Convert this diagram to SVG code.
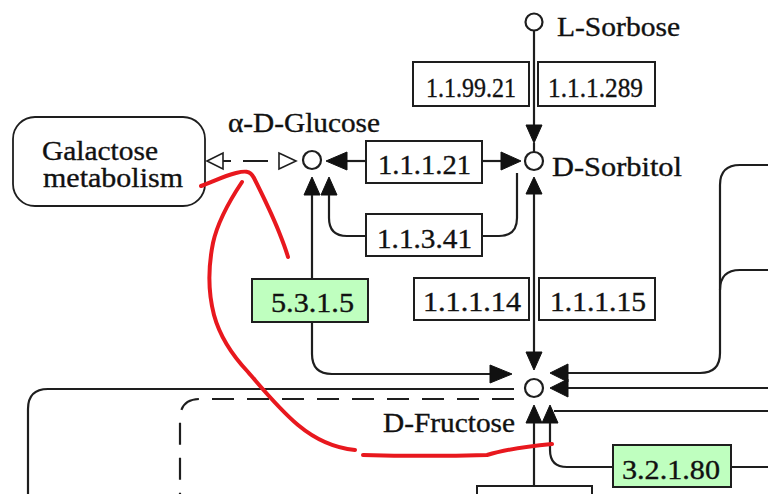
<svg xmlns="http://www.w3.org/2000/svg" width="768" height="494" viewBox="0 0 768 494">
<style>
  .bg{fill:#ffffff}
  .ln{fill:none;stroke:#1e1e1e;stroke-width:2.2}
  .dl{fill:none;stroke:#1e1e1e;stroke-width:2.2;stroke-dasharray:22 13}
  .ah{fill:#111;stroke:#111;stroke-width:1}
  .ha{fill:#fff;stroke:#1e1e1e;stroke-width:1.6}
  .cp{fill:#fff;stroke:#1e1e1e;stroke-width:2.2}
  .ec{fill:#fff;stroke:#1e1e1e;stroke-width:2}
  .eg{fill:#bfffbf;stroke:#1e1e1e;stroke-width:2}
  .mp{fill:#fff;stroke:#1e1e1e;stroke-width:1.8}
  .t{font-family:"Liberation Serif","Times New Roman",serif;font-size:27px;fill:#111;stroke:#111;stroke-width:0.35}
  .red{fill:none;stroke:#e8181e;stroke-width:4;stroke-linecap:round;stroke-linejoin:round}
</style>
<rect class="bg" x="0" y="0" width="768" height="494"/>

<g id="connectors">
  <!-- L-Sorbose -> D-Sorbitol -->
  <path class="ln" d="M534,31 V126"/>
  <polygon class="ah" points="534,143 526,125 542,125"/>
  <path class="ln" d="M534,143 V152"/>
  <!-- 1.1.1.21 -->
  <path class="ln" d="M347,161 H366"/>
  <polygon class="ah" points="326,161 347,152 347,170"/>
  <path class="ln" d="M482,161 H502"/>
  <polygon class="ah" points="521,161 501,152 501,170"/>
  <!-- 5.3.1.5 glucose <-> fructose -->
  <polygon class="ah" points="312,177 304,195 320,195"/>
  <path class="ln" d="M312,195 V354 Q312,374 332,374 H490"/>
  <polygon class="ah" points="512,374 490,365 490,383"/>
  <!-- 1.1.3.41 -->
  <polygon class="ah" points="329,177 321,195 337,195"/>
  <path class="ln" d="M329,195 V218 Q329,236 347,236 H366"/>
  <path class="ln" d="M482,236 H499 Q517,236 517,218 V173"/>
  <!-- sorbitol <-> fructose -->
  <polygon class="ah" points="534,177 526,194 542,194"/>
  <path class="ln" d="M534,194 V352"/>
  <polygon class="ah" points="534,370 526,352 542,352"/>
  <!-- right side -->
  <path class="ln" d="M768,165 H740 Q720,165 720,185 V353 Q720,373 700,373 H567"/>
  <path class="ln" d="M768,270 H740 Q720,270 720,290"/>
  <polygon class="ah" points="550,373 568,364 568,382"/>
  <path class="ln" d="M768,388 H567"/>
  <polygon class="ah" points="550,388 568,379 568,397"/>
  <!-- left pathways -->
  <path class="ln" d="M514,389 H48 Q28,389 28,409 V494" stroke-width="2.6"/>
  <path class="dl" d="M514,399 H200 Q180,399 180,419 V494"/>
  <!-- below fructose -->
  <polygon class="ah" points="534,405 526,423 542,423"/>
  <path class="ln" d="M534,423 V486"/>
  <polygon class="ah" points="550,405 542,423 558,423"/>
  <path class="ln" d="M550,423 V450 Q550,467 567,467 H613"/>
  <path class="ln" d="M731,467 H768"/>
  <path class="ln" d="M554,411 H768"/>
  <!-- galactose metabolism link -->
  <polygon class="ha" points="207,161 223,153 223,169"/>
  <path class="ln" d="M223,161 H231 M243,161 H268"/>
  <polygon class="ha" points="296,161 279,153 279,169"/>
</g>

<g id="galactose-metabolism">
  <rect class="mp" x="13" y="117" width="192" height="89" rx="22" ry="22"/>
  <text class="t" x="42" y="160" textLength="116" lengthAdjust="spacingAndGlyphs">Galactose</text>
  <text class="t" x="43" y="187" textLength="140" lengthAdjust="spacingAndGlyphs">metabolism</text>
</g>

<g id="alpha-D-glucose">
  <circle class="cp" cx="312" cy="160" r="9"/>
  <text class="t" x="228" y="132" textLength="152" lengthAdjust="spacingAndGlyphs">α-D-Glucose</text>
</g>
<g id="L-sorbose">
  <circle class="cp" cx="534" cy="22" r="8.5"/>
  <text class="t" x="557" y="36" textLength="123" lengthAdjust="spacingAndGlyphs">L-Sorbose</text>
</g>
<g id="D-sorbitol">
  <circle class="cp" cx="534" cy="161" r="9"/>
  <text class="t" x="552" y="176" textLength="130" lengthAdjust="spacingAndGlyphs">D-Sorbitol</text>
</g>
<g id="D-fructose">
  <circle class="cp" cx="534" cy="388" r="9"/>
  <text class="t" x="383" y="432" textLength="132" lengthAdjust="spacingAndGlyphs">D-Fructose</text>
</g>

<g id="ec-1.1.99.21">
  <rect class="ec" x="413" y="62" width="116" height="44"/>
  <text class="t" x="426" y="97" textLength="90" lengthAdjust="spacingAndGlyphs">1.1.99.21</text>
</g>
<g id="ec-1.1.1.289">
  <rect class="ec" x="538" y="62" width="117" height="44"/>
  <text class="t" x="548" y="97" textLength="95" lengthAdjust="spacingAndGlyphs">1.1.1.289</text>
</g>
<g id="ec-1.1.1.21">
  <rect class="ec" x="366" y="141" width="116" height="42"/>
  <text class="t" x="378" y="174" textLength="93" lengthAdjust="spacingAndGlyphs">1.1.1.21</text>
</g>
<g id="ec-1.1.3.41">
  <rect class="ec" x="366" y="214" width="116" height="42"/>
  <text class="t" x="377" y="248" textLength="95" lengthAdjust="spacingAndGlyphs">1.1.3.41</text>
</g>
<g id="ec-5.3.1.5">
  <rect class="eg" x="252" y="279" width="116" height="43"/>
  <text class="t" x="271" y="312" textLength="83" lengthAdjust="spacingAndGlyphs">5.3.1.5</text>
</g>
<g id="ec-1.1.1.14">
  <rect class="ec" x="414" y="278" width="115" height="42"/>
  <text class="t" x="423" y="311" textLength="98" lengthAdjust="spacingAndGlyphs">1.1.1.14</text>
</g>
<g id="ec-1.1.1.15">
  <rect class="ec" x="539" y="278" width="116" height="42"/>
  <text class="t" x="550" y="311" textLength="96" lengthAdjust="spacingAndGlyphs">1.1.1.15</text>
</g>
<g id="ec-3.2.1.80">
  <rect class="eg" x="613" y="445" width="118" height="42"/>
  <text class="t" x="622" y="479" textLength="98" lengthAdjust="spacingAndGlyphs">3.2.1.80</text>
</g>
<g id="ec-bottom">
  <rect class="ec" x="477" y="486" width="115" height="20"/>
</g>

<g id="red-annotation">
  <path class="red" d="M201,186 C212,182 224,176 236,173 C244,171 250,170 254,178 C262,194 271,212 279,232 C283,242 286,250 288,257"/>
  <path class="red" d="M242,182 C230,200 218,220 213,243 C208,268 208,292 214,315 C220,337 232,355 248,372 C262,388 278,408 298,425 C316,440 334,448 355,450"/>
  <path class="red" d="M363,455 C400,456 450,456 487,455 C500,451 520,447 552,444"/>
</g>
</svg>
